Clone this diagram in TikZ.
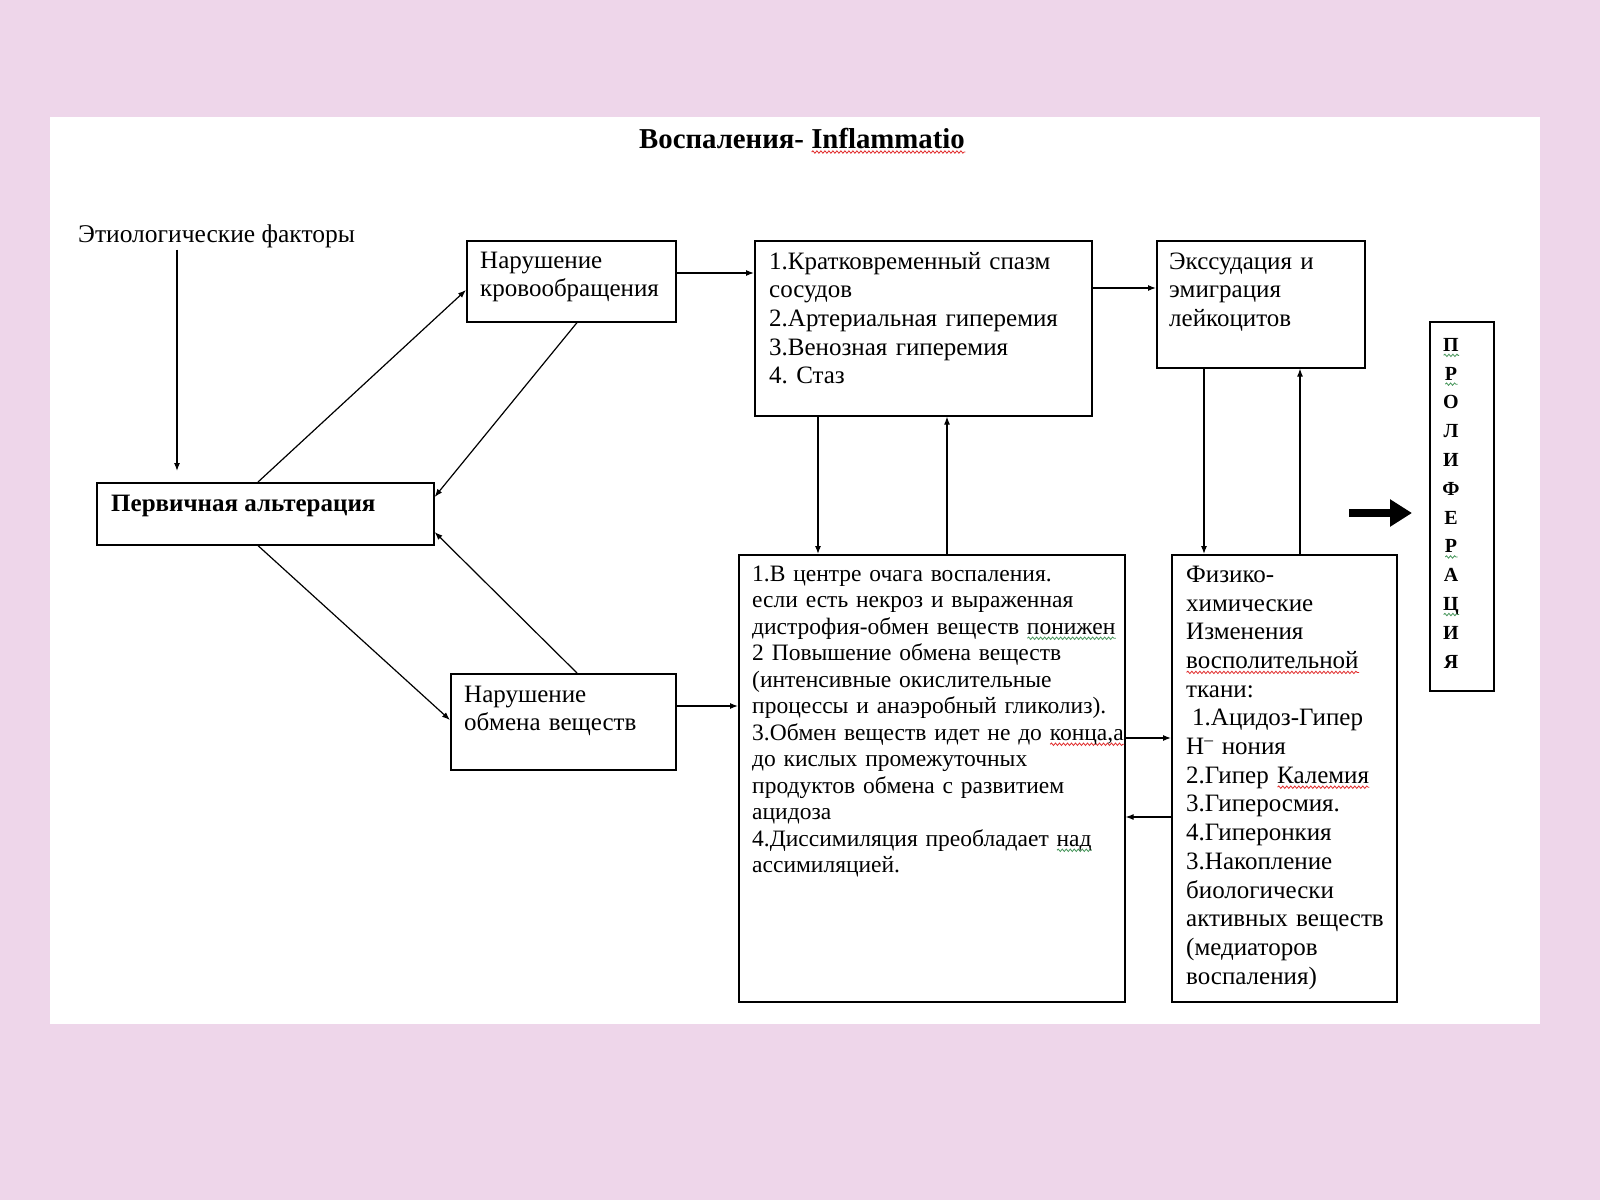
\documentclass[tikz,border=0pt]{standalone}
\usepackage{fontspec}
\setmainfont{Liberation Serif}
\usetikzlibrary{arrows.meta, decorations.pathmorphing}

\definecolor{pinkbg}{RGB}{238,214,234}
\definecolor{wavered}{RGB}{225,45,45}
\definecolor{wavegreen}{RGB}{70,150,90}

\newlength{\wavelen}
\newcommand{\wavy}[2]{\leavevmode\settowidth{\wavelen}{#2}\rlap{\tikz[baseline=0pt]\draw[#1, line width=0.8pt, decorate, decoration={snake, amplitude=1.2pt, segment length=4pt}] (0pt,-4pt) -- (\wavelen,-4pt);}#2}
\newcommand{\redwave}[1]{\wavy{wavered}{#1}}
\newcommand{\greenwave}[1]{\wavy{wavegreen}{#1}}

\newcommand{\txtsize}{\fontsize{25}{28.6}\selectfont}
\newcommand{\smallsize}{\fontsize{23.5}{26.5}\selectfont}

\begin{document}
\frenchspacing
\begin{tikzpicture}[x=1pt,y=-1pt]
\fill[pinkbg] (0,0) rectangle (1600,1200);
\fill[white] (50,117) rectangle (1540,1024);
\useasboundingbox (0,0) rectangle (1600,1200);

\node[anchor=base, font=\bfseries\fontsize{28.8}{32}\selectfont] (title) at (802,148) {Воспаления- \redwave{Inflammatio}};
\node[anchor=base west, inner sep=0pt, font=\fontsize{25.5}{28.6}\selectfont] (etiol) at (78,242) {Этиологические факторы};

\begin{scope}[every node/.style={draw=black, line width=1.6pt, anchor=north west, inner sep=0pt}]
    \node[minimum width=337pt, minimum height=62pt] (alt) at (96,482) {};
    \node[minimum width=209pt, minimum height=81pt] (krov) at (466,240) {};
    \node[minimum width=225pt, minimum height=96pt] (obmen) at (450,673) {};
    \node[minimum width=337pt, minimum height=175pt] (spazm) at (754,240) {};
    \node[minimum width=208pt, minimum height=127pt] (exud) at (1156,240) {};
    \node[minimum width=64pt, minimum height=369pt] (prolif) at (1429,321) {};
    \node[minimum width=386pt, minimum height=447pt] (centr) at (738,554) {};
    \node[minimum width=225pt, minimum height=447pt] (fiz) at (1171,554) {};
\end{scope}

\begin{scope}[every node/.style={anchor=north west, inner sep=0pt, align=left, text width=380pt, font=\txtsize}]
    \node (krovtxt) at (480,248) {\strut Нарушение\\кровообращения};
    \node (obmentxt) at (464,682) {\strut Нарушение\\обмена веществ};
    \node (spazmtxt) at (769,249) {\strut 1.Кратковременный спазм\\сосудов\\2.Артериальная гиперемия\\3.Венозная гиперемия\\4. Стаз};
    \node (exudtxt) at (1169,249) {\strut Экссудация и\\эмиграция\\лейкоцитов};
    \node[font=\smallsize] (centrtxt) at (752,562.5) {\strut 1.В центре очага воспаления.\\если есть некроз и выраженная\\дистрофия-обмен веществ \greenwave{понижен}\\2 Повышение обмена веществ\\(интенсивные окислительные\\процессы и анаэробный гликолиз).\\3.Обмен веществ идет не до \redwave{конца,а}\\до кислых промежуточных\\продуктов обмена с развитием\\ацидоза\\4.Диссимиляция преобладает \greenwave{над}\\ассимиляцией.};
    \node[font=\fontsize{25}{28.7}\selectfont] (fiztxt) at (1186,562) {\strut Физико-\\химические\\Изменения\\\redwave{восполительной}\\ткани:\\\hspace*{6pt}1.Ацидоз-Гипер\\Н\textsuperscript{–} нония\\2.Гипер \redwave{Калемия}\\3.Гиперосмия.\\4.Гиперонкия\\3.Накопление\\биологически\\активных веществ\\(медиаторов\\воспаления)};
\end{scope}

\node[anchor=base west, inner sep=0pt, font=\bfseries\txtsize] (alttxt) at (111,511) {Первичная альтерация};
\node[anchor=north, inner sep=0pt, align=center, text width=40pt, font=\bfseries\fontsize{20}{28.8}\selectfont] (proliftxt) at (1451,331) {\strut\greenwave{П}\\\greenwave{Р}\\О\\Л\\И\\Ф\\Е\\\greenwave{Р}\\А\\\greenwave{Ц}\\И\\Я};

\begin{scope}[>={Latex[length=8pt,width=6pt]},
              every edge/.style={draw=black, line width=1.2pt}]
    \path [->] ([xshift=99pt,yshift=-2pt]etiol.south west) edge ([xshift=81pt,yshift=11pt]alt.north west);
    \path [->] ([xshift=162pt]alt.north west) edge ([yshift=-50pt]krov.north west);
    \path [->] ([xshift=111pt]krov.south west) edge ([yshift=-15pt]alt.north east);
    \path [->] ([xshift=162pt]alt.south west) edge ([yshift=-47pt]obmen.north west);
    \path [->] ([xshift=127pt]obmen.north west) edge ([yshift=-50pt]alt.north east);
    \path [->] ([yshift=-33pt]krov.north east) edge ([yshift=-33pt]spazm.north west);
    \path [->] ([yshift=-33pt]obmen.north east) edge ([yshift=-152pt]centr.north west);
    \path [->] ([xshift=64pt]spazm.south west) edge ([xshift=80pt]centr.north west);
    \path [->] ([xshift=209pt]centr.north west) edge ([xshift=193pt]spazm.south west);
    \path [->] ([yshift=-48pt]spazm.north east) edge ([yshift=-48pt]exud.north west);
    \path [->] ([xshift=48pt]exud.south west) edge ([xshift=33pt]fiz.north west);
    \path [->] ([xshift=129pt]fiz.north west) edge ([xshift=144pt]exud.south west);
    \path [->] ([yshift=-184pt]centr.north east) edge ([yshift=-184pt]fiz.north west);
    \path [->] ([yshift=-263pt]fiz.north west) edge ([yshift=-263pt]centr.north east);
\end{scope}

\coordinate (bigtail) at (1349,513);
\coordinate (bighead) at (1412,513);
\draw[line width=8pt, -{Triangle[length=22pt,width=26pt]}] (bigtail) -- (bighead);
\end{tikzpicture}
\end{document}
